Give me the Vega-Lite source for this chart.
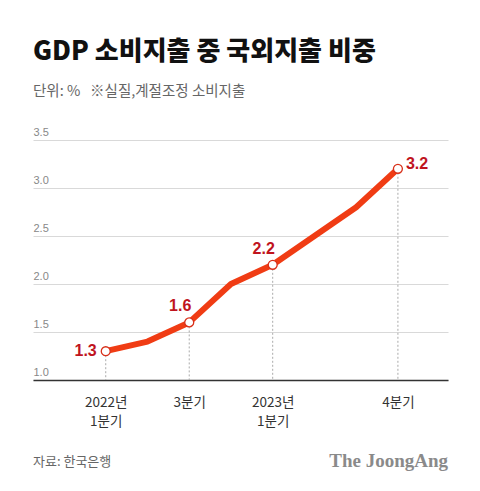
{
  "$schema": "https://vega.github.io/schema/vega-lite/v6.json",
  "width": 415,
  "height": 240,
  "autosize": "none",
  "padding": {"left": 33, "top": 140, "right": 32, "bottom": 111},
  "background": "white",
  "config": {"view": {"stroke": null}, "font": "Noto Sans CJK KR"},
  "title": {
    "text": "GDP 소비지출 중 국외지출 비중",
    "subtitle": "단위: %\u00a0\u00a0\u00a0※실질,계절조정 소비지출",
    "anchor": "start",
    "font": "Noto Sans CJK KR",
    "fontSize": 26,
    "fontWeight": 900,
    "color": "#111111",
    "subtitleFont": "Noto Sans CJK KR",
    "subtitleFontSize": 14.5,
    "subtitleColor": "#666666",
    "subtitlePadding": 20,
    "offset": 28
  },
  "data": {
    "values": [
      {"i": 0, "q": "2022년 1분기", "v": 1.3},
      {"i": 1, "q": "2022년 2분기", "v": 1.4},
      {"i": 2, "q": "2022년 3분기", "v": 1.6},
      {"i": 3, "q": "2022년 4분기", "v": 2.0},
      {"i": 4, "q": "2023년 1분기", "v": 2.2},
      {"i": 5, "q": "2023년 2분기", "v": 2.5},
      {"i": 6, "q": "2023년 3분기", "v": 2.8},
      {"i": 7, "q": "2023년 4분기", "v": 3.2}
    ]
  },
  "encoding": {
    "x": {
      "field": "i",
      "type": "quantitative",
      "scale": {"domain": [-1.743, 8.2], "nice": false, "zero": false},
      "axis": {
        "title": null,
        "values": [0, 2, 4, 7],
        "grid": false,
        "ticks": false,
        "domain": true,
        "domainColor": "#333333",
        "domainWidth": 1.5,
        "labelExpr": "datum.value == 0 ? ['2022년', '1분기'] : datum.value == 2 ? '3분기' : datum.value == 4 ? ['2023년', '1분기'] : '4분기'",
        "labelFont": "Noto Sans CJK KR",
        "labelFontSize": 13.5,
        "labelColor": "#333333",
        "labelPadding": 15,
        "labelLineHeight": 19
      }
    },
    "y": {
      "field": "v",
      "type": "quantitative",
      "scale": {"domain": [1.0, 3.5], "nice": false, "zero": false},
      "axis": {
        "title": null,
        "values": [1.0, 1.5, 2.0, 2.5, 3.0, 3.5],
        "format": ".1f",
        "grid": true,
        "gridColor": "#d9d9d9",
        "gridWidth": 1,
        "ticks": false,
        "domain": false,
        "labelAlign": "left",
        "labelBaseline": "bottom",
        "labelPadding": 0,
        "labelOffset": -3,
        "labelFont": "Liberation Sans",
        "labelFontSize": 11,
        "labelColor": "#888888"
      }
    }
  },
  "layer": [
    {
      "transform": [{"filter": "datum.i == 0 || datum.i == 2 || datum.i == 4 || datum.i == 7"}],
      "mark": {"type": "rule", "color": "#aaaaaa", "strokeDash": [2, 2], "strokeWidth": 1},
      "encoding": {"y2": {"datum": 1.0}}
    },
    {
      "mark": {"type": "line", "color": "#f03c14", "strokeWidth": 6, "strokeCap": "round", "strokeJoin": "round"}
    },
    {
      "transform": [{"filter": "datum.i == 0 || datum.i == 2 || datum.i == 4 || datum.i == 7"}],
      "mark": {"type": "point", "shape": "circle", "filled": true, "fill": "white", "stroke": "#d8301a", "strokeWidth": 1.3, "size": 80, "opacity": 1}
    },
    {
      "transform": [{"filter": "datum.i == 0"}],
      "mark": {"type": "text", "align": "right", "baseline": "middle", "dx": -9, "dy": 0, "fontSize": 16, "fontWeight": "bold", "color": "#c0141e", "font": "Liberation Sans"},
      "encoding": {"text": {"field": "v", "type": "quantitative", "format": ".1f"}}
    },
    {
      "transform": [{"filter": "datum.i == 2 || datum.i == 4"}],
      "mark": {"type": "text", "align": "center", "baseline": "bottom", "dx": -9, "dy": -8, "fontSize": 16, "fontWeight": "bold", "color": "#c0141e", "font": "Liberation Sans"},
      "encoding": {"text": {"field": "v", "type": "quantitative", "format": ".1f"}}
    },
    {
      "transform": [{"filter": "datum.i == 7"}],
      "mark": {"type": "text", "align": "left", "baseline": "middle", "dx": 8, "dy": -5, "fontSize": 16, "fontWeight": "bold", "color": "#c0141e", "font": "Liberation Sans"},
      "encoding": {"text": {"field": "v", "type": "quantitative", "format": ".1f"}}
    },
    {
      "transform": [{"filter": "datum.i == 0"}],
      "mark": {"type": "text", "align": "left", "baseline": "middle", "fontSize": 13, "color": "#666666", "font": "Noto Sans CJK KR"},
      "encoding": {"x": {"datum": -1.743}, "y": {"datum": 0.15}, "text": {"value": "자료: 한국은행"}}
    },
    {
      "transform": [{"filter": "datum.i == 0"}],
      "mark": {"type": "text", "align": "right", "baseline": "middle", "fontSize": 19, "fontWeight": "bold", "color": "#8a8a8a", "font": "Liberation Serif"},
      "encoding": {"x": {"datum": 8.2}, "y": {"datum": 0.16}, "text": {"value": "The JoongAng"}}
    }
  ]
}
